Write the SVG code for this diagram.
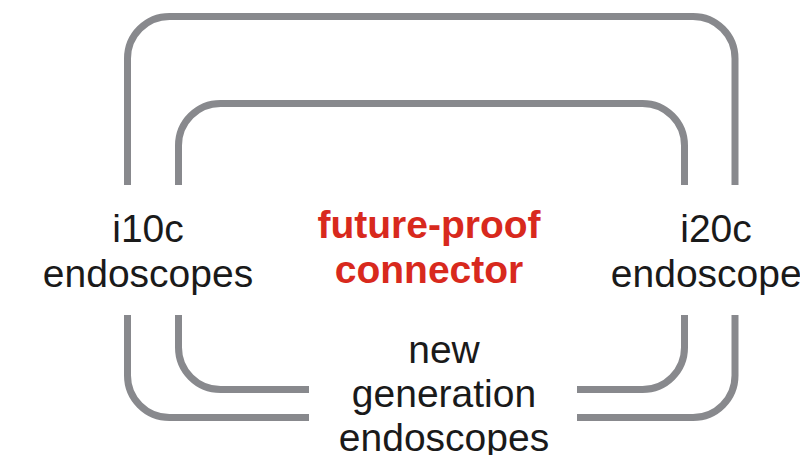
<svg xmlns="http://www.w3.org/2000/svg" width="800" height="455" viewBox="0 0 800 455">
<style>
.ln{fill:none;stroke:#88898d;stroke-width:7;stroke-linecap:butt}
.lbl{font-family:"Liberation Sans",Arial,sans-serif;font-size:39px;fill:#1a1a1a;text-anchor:middle}
.red{font-family:"Liberation Sans",Arial,sans-serif;font-size:39px;font-weight:bold;fill:#d8291d;text-anchor:middle}
</style>
<rect width="800" height="455" fill="#ffffff"/>
<g id="connectors">
<path class="ln" d="M127.5,185 V58.5 A42,42 0 0 1 169.5,16.5 H693 A42,42 0 0 1 735,58.5 V185"/>
<path class="ln" d="M178.5,185 V145.5 A42,42 0 0 1 220.5,103.5 H642.5 A42,42 0 0 1 684.5,145.5 V185"/>
<path class="ln" d="M127.5,315 V375.5 A42,42 0 0 0 169.5,417.5 H309"/>
<path class="ln" d="M178.5,315 V347.5 A42,42 0 0 0 220.5,389.5 H309"/>
<path class="ln" d="M577,417.5 H693 A42,42 0 0 0 735,375.5 V315"/>
<path class="ln" d="M577,389.5 H642.5 A42,42 0 0 0 684.5,347.5 V315"/>
</g>
<g id="i10c">
<text class="lbl" x="148" y="242">i10c</text>
<text class="lbl" x="148" y="287">endoscopes</text>
</g>
<g id="connector">
<text class="red" x="429" y="238">future-proof</text>
<text class="red" x="429" y="283">connector</text>
</g>
<g id="i20c">
<text class="lbl" x="716" y="242">i20c</text>
<text class="lbl" x="716" y="287">endoscopes</text>
</g>
<g id="newgen">
<text class="lbl" x="444" y="363">new</text>
<text class="lbl" x="444" y="407">generation</text>
<text class="lbl" x="444" y="451">endoscopes</text>
</g>
</svg>
